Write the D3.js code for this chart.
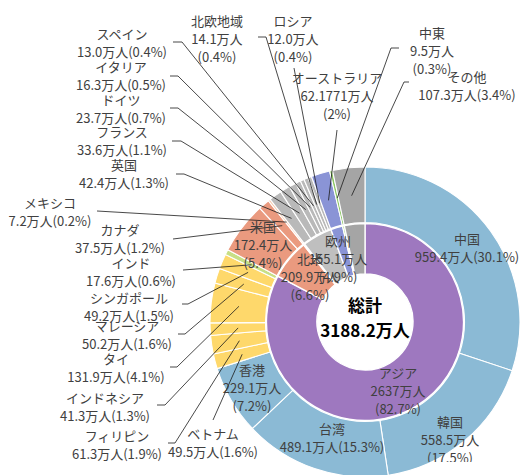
<!DOCTYPE html>
<html>
<head>
<meta charset="utf-8">
<script src="https://cdn.jsdelivr.net/npm/d3@7"></script>
<style>
  body { margin: 0; background: #fff; }
  svg { display: block; }
</style>
</head>
<body>
<div id="chart"></div>
<script>
// inner ring (regions)
const regions = ['アジア', '北米', 'メキシコ', '欧州', 'オーストラリア', '中東', 'その他']
const regionValues = [2637, 209.9, 7.2, 155.1, 62.1771, 9.5, 107.3]

// outer ring (countries)
const countries = ['中国', '韓国', '台湾', '香港', 'ベトナム', 'フィリピン', 'インドネシア', 'タイ',
  'マレーシア', 'シンガポール', 'インド', '米国', 'カナダ', 'メキシコ', '英国', 'フランス', 'ドイツ',
  'イタリア', 'スペイン', '北欧地域', 'ロシア', 'オーストラリア', '中東', 'その他']
const countryValues = [959.4, 558.5, 489.1, 229.1, 49.5, 61.3, 41.3, 131.9,
  50.2, 49.2, 17.6, 172.4, 37.5, 7.2, 42.4, 33.6, 23.7,
  16.3, 13.0, 14.1, 12.0, 62.1771, 9.5, 107.3]

const totalTitle = '総計'

let width = 524
let height = 475
let cx = 365
let cy = 322

let svg = d3
  .select('#chart')
  .append('svg')
  .attr('width', width)
  .attr('height', height)
  .attr('font-family', '"Noto Sans CJK JP", "Noto Sans", sans-serif')

// labels get cut a little above the bottom edge, like the original
svg.append('clipPath')
  .attr('id', 'label-clip')
  .append('rect')
  .attr('width', width)
  .attr('height', 462)

let g = svg.append('g').attr('transform', `translate(${cx},${cy})`)

// colours
let innerColor = d3.scaleOrdinal()
  .domain(regions)
  .range(['#9e78bf', '#ea9a7f', '#f6c9ab', '#bfbfbf', '#8a94d6', '#9ccf77', '#a5a5a5'])

let outerColor = function(name) {
  if (['中国', '韓国', '台湾', '香港'].includes(name)) return '#8bbad5'
  if (['ベトナム', 'フィリピン', 'インドネシア', 'タイ', 'マレーシア', 'シンガポール'].includes(name)) return '#fed86b'
  if (name === 'インド') return '#c8df86'
  if (name === '米国' || name === 'カナダ') return '#ea9a7f'
  if (name === 'メキシコ') return '#f6c9ab'
  if (name === 'オーストラリア') return '#8a94d6'
  if (name === '中東') return '#8cc665'
  if (name === 'その他') return '#a5a5a5'
  return '#b9b9b9'
}

let total = d3.sum(regionValues)

let pie = d3.pie().sort(null).value(d => d.value)

let innerData = pie(regions.map((name, i) => ({ name, value: regionValues[i] })))
let outerData = pie(countries.map((name, i) => ({ name, value: countryValues[i] })))

let innerArc = d3.arc().innerRadius(48).outerRadius(98.5)
let outerArc = d3.arc().innerRadius(99.5).outerRadius(155)
let midArc = d3.arc().innerRadius(127).outerRadius(127)

g.selectAll('.inner')
  .data(innerData)
  .enter()
  .append('path')
  .attr('class', 'inner')
  .attr('d', innerArc)
  .attr('fill', d => innerColor(d.data.name))
  .attr('stroke', 'white')
  .attr('stroke-width', 1.3)

g.selectAll('.outer')
  .data(outerData)
  .enter()
  .append('path')
  .attr('class', 'outer')
  .attr('d', outerArc)
  .attr('fill', d => outerColor(d.data.name))
  .attr('stroke', 'white')
  .attr('stroke-width', 1.1)

// label text helpers
function valText(name, v) {
  if (name === 'アジア') return d3.format('d')(v)
  if (name === 'オーストラリア') return String(v)
  return d3.format('.1f')(v)
}
function pctText(name, v) {
  let p = v / total * 100
  if (name === 'オーストラリア') return d3.format('.0f')(p)
  return d3.format('.1f')(p)
}

// label placement: [text x, first row y, rows, leader start x, y, elbow x]
let outerLayout = {
  '中国': [467, 238, 2],
  '韓国': [450, 421, 3],
  '台湾': [332, 428, 2],
  '香港': [252, 369, 3],
  'ベトナム': [213, 433, 2, 213, 420, 213],
  'フィリピン': [117, 435, 2, 168, 443, 175],
  'インドネシア': [105, 397, 2, 157, 405, 165],
  'タイ': [116, 358, 2, 170, 367, 177],
  'マレーシア': [127, 325, 2, 178, 334, 185],
  'シンガポール': [129, 297, 2, 182, 304, 188],
  'インド': [131, 262, 2, 183, 270, 183],
  '米国': [263, 226, 3],
  'カナダ': [120, 229, 2, 173, 239, 173],
  'メキシコ': [50, 202, 2, 97, 211, 97],
  '英国': [124, 164, 2, 176, 174, 184],
  'フランス': [122, 131, 2, 172, 141, 181],
  'ドイツ': [121, 99, 2, 170, 108, 178],
  'イタリア': [121, 66, 2, 170, 76, 178],
  'スペイン': [122, 33, 2, 173, 42, 182],
  '北欧地域': [217, 20, 3, 258, 37, 266],
  'ロシア': [293, 20, 3, 294, 68, 294],
  'オーストラリア': [337, 77, 3, 337, 130, 337],
  '中東': [432, 32, 3, 399, 48, 391],
  'その他': [467, 76, 2, 409, 82, 404]
}

let innerLayout = {
  'アジア': [398, 372, 3],
  '北米': [310, 258, 3],
  '欧州': [338, 240, 3]
}

let lineGap = 18

function labelRows(name, v, rows) {
  if (rows === 2) return [name, `${valText(name, v)}万人(${pctText(name, v)}%)`]
  return [name, `${valText(name, v)}万人`, `(${pctText(name, v)}%)`]
}

// leader lines go to the middle of the outer ring
let leaders = svg.append('g')
outerData.forEach(function(d) {
  let lay = outerLayout[d.data.name]
  if (!lay || lay[3] === undefined) return
  let c = midArc.centroid(d)
  leaders.append('path')
    .attr('d', d3.line()([[lay[3], lay[4]], [lay[5], lay[4]], [c[0] + cx, c[1] + cy]]))
    .attr('fill', 'none')
    .attr('stroke', '#1a1a1a')
    .attr('stroke-width', 0.8)
})

let labels = svg.append('g')
  .attr('clip-path', 'url(#label-clip)')
  .attr('font-size', 13)
  .attr('fill', '#404040')
  .attr('text-anchor', 'middle')

function drawLabel(d, lay) {
  let rows = labelRows(d.data.name, d.data.value, lay[2])
  let t = labels.append('text')
    .attr('x', lay[0])
    .attr('y', lay[1])
    .attr('dominant-baseline', 'central')
  rows.forEach(function(r, i) {
    t.append('tspan')
      .attr('x', lay[0])
      .attr('y', lay[1] + i * lineGap)
      .text(r)
  })
}

innerData.forEach(function(d) {
  let lay = innerLayout[d.data.name]
  if (lay) drawLabel(d, lay)
})
outerData.forEach(function(d) {
  let lay = outerLayout[d.data.name]
  if (lay) drawLabel(d, lay)
})

// centre title
let centre = svg.append('text')
  .attr('text-anchor', 'middle')
  .attr('font-weight', 'bold')
  .attr('font-size', 17)
  .attr('fill', '#000')
centre.append('tspan')
  .attr('x', cx)
  .attr('y', 312)
  .text(totalTitle)
centre.append('tspan')
  .attr('x', cx)
  .attr('y', 337)
  .text(d3.format('.1f')(total) + '万人')
</script>
</body>
</html>
